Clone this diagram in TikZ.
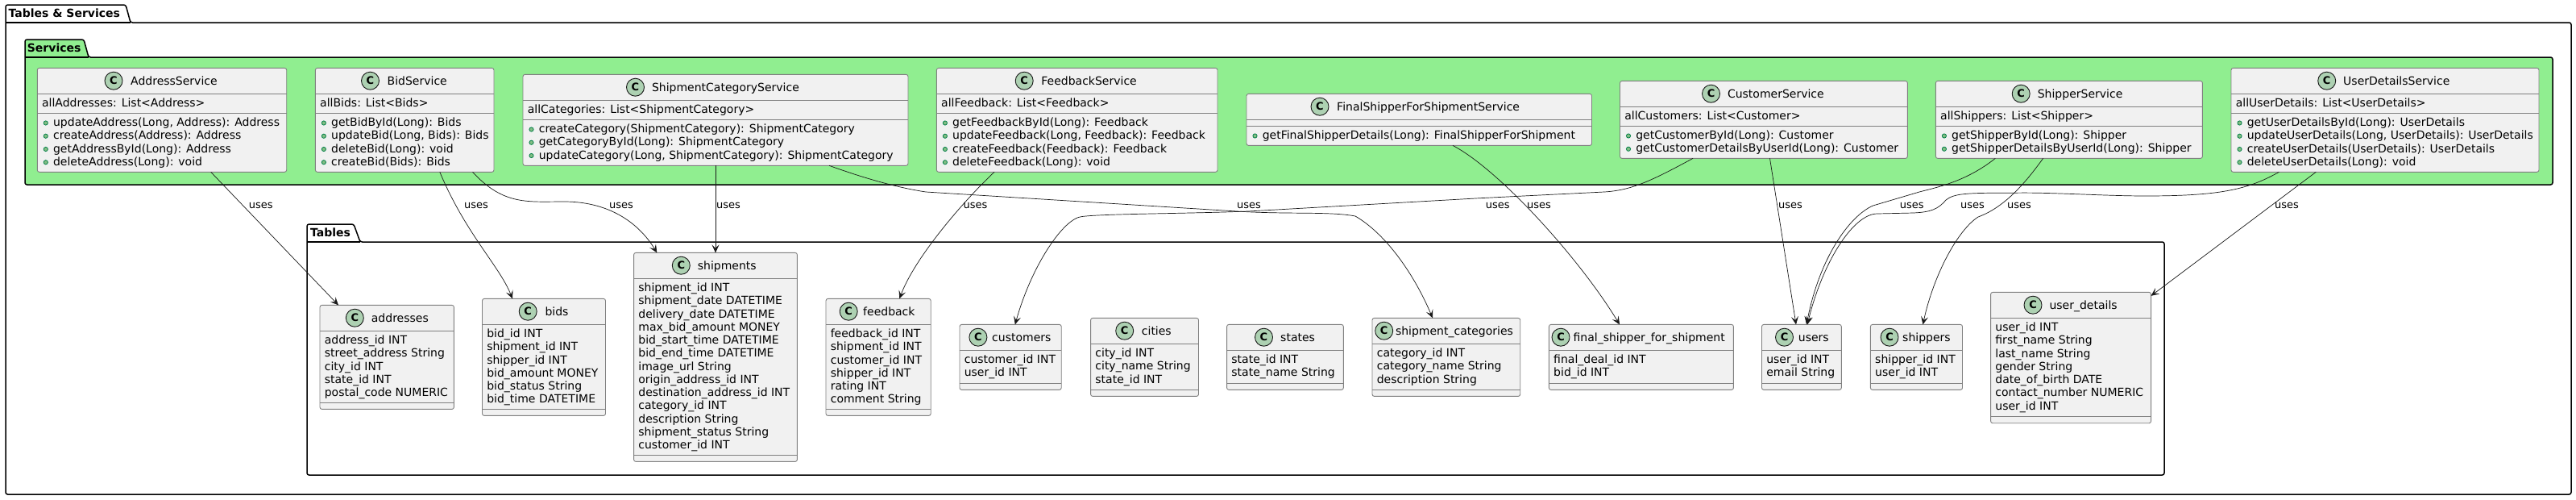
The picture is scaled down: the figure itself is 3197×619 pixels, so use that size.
\documentclass[tikz,border=0pt]{standalone}
\usepackage{fontspec}
\setmainfont{DejaVu Sans}
\usetikzlibrary{arrows.meta}
\definecolor{ink}{HTML}{181818}
\definecolor{boxline}{HTML}{808080}
\definecolor{classfill}{HTML}{F1F1F1}
\definecolor{spotfill}{HTML}{ADD1B2}
\definecolor{bulletfill}{HTML}{84BE84}
\definecolor{bulletline}{HTML}{038048}
\definecolor{svcgreen}{HTML}{90EE90}
\tikzset{
  pkg/.style={draw=black,line width=1.5pt,rounded corners=2.5pt},
  pkgline/.style={draw=black,line width=1.5pt},
  pkgtitle/.style={inner sep=0pt,anchor=base west,font=\fontsize{14}{16}\selectfont\bfseries},
  classbox/.style={draw=boxline,line width=0.9pt,fill=classfill,rounded corners=2.5pt,inner sep=0pt,outer sep=0pt,anchor=north west},
  divider/.style={draw=boxline,line width=0.9pt},
  spot/.style={circle,draw=ink,line width=0.9pt,fill=spotfill,minimum size=22pt,inner sep=0pt,font=\fontsize{13}{13}\selectfont\bfseries},
  nametext/.style={inner sep=0pt,anchor=base west,font=\fontsize{14}{16}\selectfont},
  memtext/.style={inner sep=0pt,anchor=base west,font=\fontsize{14}{16}\selectfont},
  bullet/.style={draw=bulletline,fill=bulletfill,line width=0.8pt},
  edge/.style={draw=ink,line width=0.7pt,-{Stealth[length=10pt,width=9pt,inset=4.5pt]}},
  uselabel/.style={inner sep=0pt,anchor=base west,font=\fontsize{13}{15}\selectfont},
}
\newcount\txtidx
% id, x1, y1, x2, y2, second divider y, spot x, name x, name
\newcommand\cbox[9]{%
  \pgfmathsetmacro\bw{#4-#2}\pgfmathsetmacro\bh{#5-#3}%
  \pgfmathsetmacro\sone{#3+32}%
  \node[classbox,minimum width=\bw pt,minimum height=\bh pt] (#1) at (#2,#3) {};
  \draw[divider] (#2,\sone) -- (#4,\sone);
  \draw[divider] (#2,#6) -- (#4,#6);
  \pgfmathsetmacro\spy{#3+15.8}\pgfmathsetmacro\nmy{#3+20.6}%
  \node[spot] (#1C) at (#7,\spy) {C};
  \node[nametext] (#1N) at (#8,\nmy) {#9};
  \pgfmathsetmacro\fldx{#2+5.6}\pgfmathsetmacro\fldy{\sone+16.3}%
  \pgfmathsetmacro\mthb{#2+10.5}\pgfmathsetmacro\mthx{#2+19.6}\pgfmathsetmacro\mthy{#6+16.3}%
}
\newcommand\fld[1]{%
  \global\advance\txtidx by 1
  \node[memtext] (t\the\txtidx) at (\fldx,\fldy) {#1};
  \pgfmathsetmacro\fldy{\fldy+16.25}%
}
\newcommand\mth[1]{%
  \global\advance\txtidx by 1
  \pgfmathsetmacro\byy{\mthy-4.2}%
  \path[bullet] (\mthb,\byy) circle (2.6pt);
  \node[memtext] (t\the\txtidx) at (\mthx,\mthy) {#1};
  \pgfmathsetmacro\mthy{\mthy+16.25}%
}
\newcommand\lbl[2]{\node[uselabel] (#1) at (#2,258.6) {uses};}
\begin{document}
\begin{tikzpicture}[x=1pt,y=-1pt]
\useasboundingbox (0,0) rectangle (3197,619);
\path[fill=white] (0,0) rectangle (3197,619);
% outer package
\path[pkg] (7,6) -- (156,6) -- (162,28) -- (3191,28) -- (3191,613) -- (7,613) -- cycle;
\draw[pkgline] (7,28) -- (162,28);
\node[pkgtitle] (titleall) at (10.5,21) {Tables \& Services};
% services package
\path[pkg,fill=svcgreen] (31,49) -- (104,49) -- (110,71) -- (3168,71) -- (3168,229) -- (31,229) -- cycle;
\draw[pkgline] (31,71) -- (110,71);
\node[pkgtitle] (titlesvc) at (33.7,64.3) {Services};
% tables package
\path[pkg] (381,278) -- (439,278) -- (447,300) -- (2686,300) -- (2686,589) -- (381,589) -- cycle;
\draw[pkgline] (381,300) -- (447,300);
\node[pkgtitle] (titletbl) at (385,293) {Tables};
% services
\cbox{AddressService}{46.3}{84.4}{355.7}{213.3}{140.4}{141}{162}{AddressService}
\fld{allAddresses: List<Address>}
\mth{updateAddress(Long, Address): Address}
\mth{createAddress(Address): Address}
\mth{getAddressById(Long): Address}
\mth{deleteAddress(Long): void}
\cbox{BidService}{391.4}{84.4}{613}{213.3}{140.4}{459.5}{480.5}{BidService}
\fld{allBids: List<Bids>}
\mth{getBidById(Long): Bids}
\mth{updateBid(Long, Bids): Bids}
\mth{deleteBid(Long): void}
\mth{createBid(Bids): Bids}
\cbox{CategoryService}{649}{92.4}{1127}{205.3}{148.4}{788.5}{808.8}{ShipmentCategoryService}
\fld{allCategories: List<ShipmentCategory>}
\mth{createCategory(ShipmentCategory): ShipmentCategory}
\mth{getCategoryById(Long): ShipmentCategory}
\mth{updateCategory(Long, ShipmentCategory): ShipmentCategory}
\cbox{FeedbackService}{1162.4}{84.4}{1511}{213.3}{140.4}{1271.2}{1292.2}{FeedbackService}
\fld{allFeedback: List<Feedback>}
\mth{getFeedbackById(Long): Feedback}
\mth{updateFeedback(Long, Feedback): Feedback}
\mth{createFeedback(Feedback): Feedback}
\mth{deleteFeedback(Long): void}
\cbox{FinalService}{1547}{116.4}{1975.5}{180.4}{156.4}{1638}{1659}{FinalShipperForShipmentService}
\mth{getFinalShipperDetails(Long): FinalShipperForShipment}
\cbox{CustomerService}{2010.5}{100.4}{2367.3}{196.4}{156.4}{2123.5}{2143.8}{CustomerService}
\fld{allCustomers: List<Customer>}
\mth{getCustomerById(Long): Customer}
\mth{getCustomerDetailsByUserId(Long): Customer}
\cbox{ShipperService}{2402.4}{100.4}{2733.4}{196.4}{156.4}{2508.2}{2528.6}{ShipperService}
\fld{allShippers: List<Shipper>}
\mth{getShipperById(Long): Shipper}
\mth{getShipperDetailsByUserId(Long): Shipper}
\cbox{UserDetailsService}{2769}{84.4}{3151}{213.3}{140.4}{2887.7}{2908}{UserDetailsService}
\fld{allUserDetails: List<UserDetails>}
\mth{getUserDetailsById(Long): UserDetails}
\mth{updateUserDetails(Long, UserDetails): UserDetails}
\mth{createUserDetails(UserDetails): UserDetails}
\mth{deleteUserDetails(Long): void}
% tables
\cbox{addresses}{397}{378.4}{563.4}{507.4}{499.4}{440.3}{460.7}{addresses}
\fld{address\_id INT}
\fld{street\_address String}
\fld{city\_id INT}
\fld{state\_id INT}
\fld{postal\_code NUMERIC}
\cbox{bids}{598.5}{370.4}{751.5}{515.4}{507.4}{655.2}{676.3}{bids}
\fld{bid\_id INT}
\fld{shipment\_id INT}
\fld{shipper\_id INT}
\fld{bid\_amount MONEY}
\fld{bid\_status String}
\fld{bid\_time DATETIME}
\cbox{shipments}{786.6}{313.4}{989.4}{572.4}{564.4}{845.3}{865.7}{shipments}
\fld{shipment\_id INT}
\fld{shipment\_date DATETIME}
\fld{delivery\_date DATETIME}
\fld{max\_bid\_amount MONEY}
\fld{bid\_start\_time DATETIME}
\fld{bid\_end\_time DATETIME}
\fld{image\_url String}
\fld{origin\_address\_id INT}
\fld{destination\_address\_id INT}
\fld{category\_id INT}
\fld{description String}
\fld{shipment\_status String}
\fld{customer\_id INT}
\cbox{feedback}{1025}{370.4}{1155.2}{515.4}{507.4}{1053.2}{1071}{feedback}
\fld{feedback\_id INT}
\fld{shipment\_id INT}
\fld{customer\_id INT}
\fld{shipper\_id INT}
\fld{rating INT}
\fld{comment String}
\cbox{customers}{1191}{402.4}{1317.2}{483.4}{475.4}{1213.9}{1231}{customers}
\fld{customer\_id INT}
\fld{user\_id INT}
\cbox{cities}{1353.6}{394.4}{1487.5}{491.4}{483.4}{1395.7}{1416.7}{cities}
\fld{city\_id INT}
\fld{city\_name String}
\fld{state\_id INT}
\cbox{states}{1522.6}{402.4}{1667.3}{483.4}{475.4}{1568.5}{1589}{states}
\fld{state\_id INT}
\fld{state\_name String}
\cbox{categories}{1703}{394.4}{1886.7}{491.4}{483.4}{1717.7}{1731.8}{shipment\_categories}
\fld{category\_id INT}
\fld{category\_name String}
\fld{description String}
\cbox{finalship}{1922.4}{402.4}{2151.4}{483.4}{475.4}{1937}{1952.4}{final\_shipper\_for\_shipment}
\fld{final\_deal\_id INT}
\fld{bid\_id INT}
\cbox{users}{2186.5}{402.4}{2285.3}{483.4}{475.4}{2214.5}{2231.7}{users}
\fld{user\_id INT}
\fld{email String}
\cbox{shippers}{2321.4}{402.4}{2435.5}{483.4}{475.4}{2345}{2361}{shippers}
\fld{shipper\_id INT}
\fld{user\_id INT}
\cbox{userdetails}{2470.6}{362.4}{2669.6}{524.7}{516.7}{2523}{2543.3}{user\_details}
\fld{user\_id INT}
\fld{first\_name String}
\fld{last\_name String}
\fld{gender String}
\fld{date\_of\_birth DATE}
\fld{contact\_number NUMERIC}
\fld{user\_id INT}
% connectors
\draw[edge] (AddressService.south -| 261.7,0) -- (addresses.north -| 420,0);
\draw[edge] (BidService.south -| 545.8,0) .. controls (578,290) and (620,330) .. (bids.north -| 636,0);
\draw[edge] (BidService.south -| 586.5,0) .. controls (625,255) and (655,250) .. (700,250) .. controls (760,250) and (795,280) .. (shipments.north -| 815.3,0);
\draw[edge] (CategoryService.south -| 888,0) -- (shipments.north -| 888,0);
\draw[edge] (CategoryService.south -| 1029,0) .. controls (1070,220) and (1110,232) .. (1149,238) -- (1535,262) .. controls (1600,266) and (1650,262) .. (1682,268) .. controls (1720,290) and (1755,340) .. (categories.north -| 1778,0);
\draw[edge] (FeedbackService.south -| 1234,0) .. controls (1195,250) and (1135,320) .. (feedback.north -| 1116.3,0);
\draw[edge] (CustomerService.south -| 2101,0) .. controls (2050,224) and (2025,236) .. (1991,238) -- (1836.6,245.7) -- (1549,262) .. controls (1470,265) and (1370,265) .. (1343,268.5) .. controls (1320,270) and (1280,330) .. (customers.north -| 1259.8,0);
\draw[edge] (FinalService.south -| 1803,0) .. controls (1860,210) and (1960,320) .. (finalship.north -| 2010,0);
\draw[edge] (CustomerService.south -| 2196.5,0) -- (users.north -| 2229,0);
\draw[edge] (ShipperService.south -| 2476.3,0) .. controls (2440,225) and (2405,232) .. (2382,238) -- (2324.5,255) .. controls (2295,268) and (2258,320) .. (users.north -| 2242,0);
\draw[edge] (UserDetailsService.south -| 2828.4,0) .. controls (2790,235) and (2755,243) .. (2662.6,243) .. controls (2610,243) and (2540,238) .. (2496.7,239.3) .. controls (2440,239) and (2425,240) .. (2415,248) .. controls (2405,260) and (2395,263) .. (2375,264) -- (2330,265) .. controls (2300,265) and (2262,325) .. (users.north -| 2243,0);
\draw[edge] (ShipperService.south -| 2535.6,0) .. controls (2510,232) and (2485,258) .. (2455,269) .. controls (2430,285) and (2400,340) .. (shippers.north -| 2386.4,0);
\draw[edge] (UserDetailsService.south -| 2874.3,0) -- ([yshift=-4.4pt]userdetails.north east);
% labels
\lbl{ua}{308.7}\lbl{ub}{576}\lbl{uc}{756}\lbl{ud}{889}\lbl{ue}{1195.4}\lbl{uf}{1535}\lbl{ug}{1843.6}
\lbl{uh}{1895}\lbl{ui}{2207}\lbl{uj}{2357.7}\lbl{uk}{2433}\lbl{ul}{2491}\lbl{um}{2823}
\end{tikzpicture}
\end{document}
